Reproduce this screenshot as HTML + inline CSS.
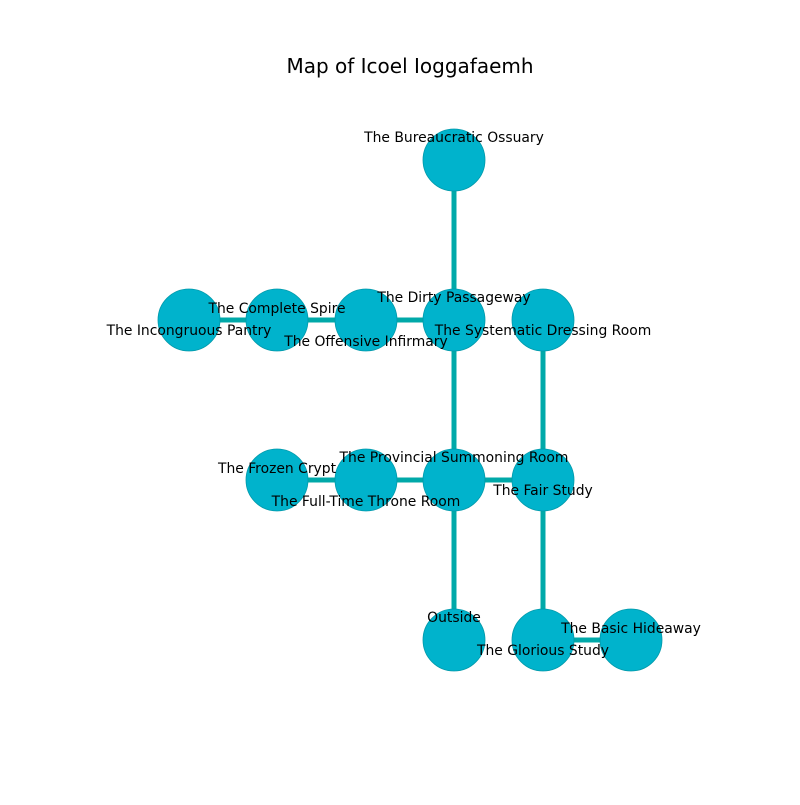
<!DOCTYPE html>
<html><head><meta charset="utf-8"><style>body{margin:0;background:#fff}</style></head><body>
<svg width="800" height="800" xmlns="http://www.w3.org/2000/svg" font-family="DejaVu Sans, Liberation Sans, sans-serif">
<rect width="800" height="800" fill="#fff"/>
<text x="410" y="73" font-size="20" text-anchor="middle">Map of Icoel Ioggafaemh</text>
<g stroke="#00a9a9" stroke-width="5">
<line x1="454" y1="160" x2="454" y2="640"/>
<line x1="189" y1="320" x2="454" y2="320"/>
<line x1="543" y1="320" x2="543" y2="640"/>
<line x1="277" y1="480" x2="543" y2="480"/>
<line x1="543" y1="640" x2="631" y2="640"/>
</g>
<g fill="#00b3cc" stroke="#0099aa" stroke-width="0.8">
<circle cx="454" cy="160" r="31"/>
<circle cx="454" cy="320" r="31"/>
<circle cx="543" cy="320" r="31"/>
<circle cx="366" cy="320" r="31"/>
<circle cx="277" cy="320" r="31"/>
<circle cx="189" cy="320" r="31"/>
<circle cx="454" cy="480" r="31"/>
<circle cx="543" cy="480" r="31"/>
<circle cx="366" cy="480" r="31"/>
<circle cx="277" cy="480" r="31"/>
<circle cx="454" cy="640" r="31"/>
<circle cx="543" cy="640" r="31"/>
<circle cx="631" cy="640" r="31"/>
</g>
<g font-size="13.9" text-anchor="middle" fill="#000">
<text x="454" y="142">The Bureaucratic Ossuary</text>
<text x="454" y="302">The Dirty Passageway</text>
<text x="543" y="335">The Systematic Dressing Room</text>
<text x="366" y="346">The Offensive Infirmary</text>
<text x="277" y="313">The Complete Spire</text>
<text x="189" y="335">The Incongruous Pantry</text>
<text x="454" y="462">The Provincial Summoning Room</text>
<text x="543" y="495">The Fair Study</text>
<text x="366" y="506">The Full-Time Throne Room</text>
<text x="277" y="473">The Frozen Crypt</text>
<text x="454" y="622">Outside</text>
<text x="543" y="655">The Glorious Study</text>
<text x="631" y="633">The Basic Hideaway</text>
</g>
</svg>
</body></html>
